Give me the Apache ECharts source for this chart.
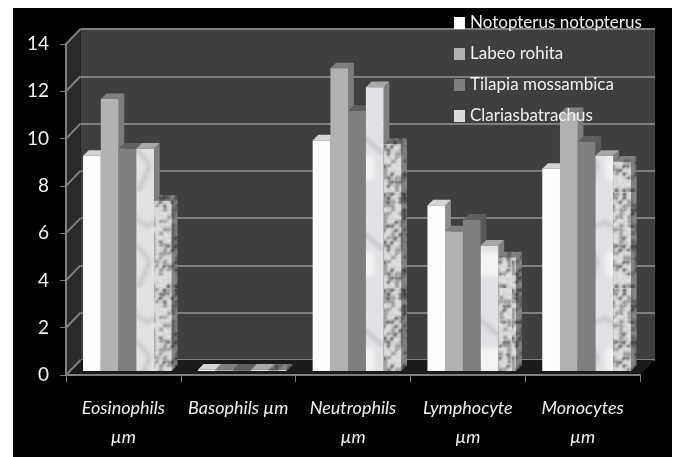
<!DOCTYPE html>
<html>
<head>
<meta charset="utf-8">
<style>
html, body { margin: 0; padding: 0; background: #fff; }
#main { width: 675px; height: 457px; }
</style>
<script src="https://cdn.jsdelivr.net/npm/echarts@6/dist/echarts.min.js"></script>
</head>
<body>
<div id="main"></div>
<script>
var categories = ["Eosinophils\nµm", "Basophils µm", "Neutrophils\nµm", "Lymphocyte\nµm", "Monocytes\nµm"];
var notopterus = [9.1, 0.05, 9.75, 7.0, 8.55];
var labeo = [11.5, 0.05, 12.8, 5.9, 10.9];
var tilapia = [9.4, 0.05, 11.0, 6.4, 9.7];
var clarias = [9.4, 0.05, 12.0, 5.3, 9.1];
var fifth = [7.2, 0.05, 9.6, 4.8, 8.85];
var legendNames = ["Notopterus notopterus", "Labeo rohita", "Tilapia mossambica", "Clariasbatrachus"];
var yTicks = [0, 2, 4, 6, 8, 10, 12, 14];

var font = 'Lato, "Liberation Sans", sans-serif';

// textures for the two mottled series, just decoration
function makeTexture(kind, shade) {
  var c = document.createElement("canvas");
  c.width = 64; c.height = 96;
  var ctx = c.getContext("2d");
  ctx.fillStyle = kind == "marble" ? "#e2e2e6" : "#cccccc";
  ctx.fillRect(0, 0, 64, 96);
  if (kind == "marble") {
    ctx.filter = "blur(2px)";
    ctx.strokeStyle = "rgba(120,120,125,0.55)";
    ctx.lineWidth = 2;
    ctx.beginPath(); ctx.moveTo(0, 20); ctx.lineTo(18, 34); ctx.lineTo(30, 30); ctx.lineTo(64, 58); ctx.stroke();
    ctx.beginPath(); ctx.moveTo(10, 96); ctx.lineTo(22, 70); ctx.lineTo(8, 52); ctx.stroke();
    ctx.fillStyle = "rgba(255,255,255,0.6)";
    ctx.fillRect(30, 60, 24, 24);
  } else {
    ctx.filter = "blur(0.8px)";
    for (var y = 0; y < 96; y += 4) {
      for (var x = 0; x < 64; x += 4) {
        var s = Math.sin(x * 12.9 + y * 78.2) * 437.5;
        s = s - Math.floor(s);
        ctx.fillStyle = s < 0.2 ? "#4e4e4e" : (s < 0.45 ? "#8a8a8a" : "#e6e6e6");
        ctx.beginPath();
        ctx.arc(x + s * 3, y + (1 - s) * 3, 1.9, 0, Math.PI * 2);
        ctx.fill();
      }
    }
    if (shade) {
      ctx.filter = "none";
      ctx.fillStyle = shade;
      ctx.fillRect(0, 0, 64, 96);
    }
  }
  return { image: c, repeat: "repeat" };
}
var marble = makeTexture("marble");
var granite = makeTexture("granite");
var graniteDark = makeTexture("granite", "rgba(0,0,0,0.4)");

function barRenderer(seriesPos, front, top, side) {
  return function (params, api) {
    var p = api.coord([api.value(0), api.value(1)]);
    var base = api.coord([api.value(0), 0]);
    var w = api.size([1, 0])[0] * 0.1545;
    var x = p[0] + 4 + (seriesPos - 2.5) * w;
    var yTop = p[1] - 4, yBase = base[1] - 4;
    var d = 5.7;
    return {
      type: "group",
      children: [
        { type: "polygon", shape: { points: [[x + w, yTop], [x + w + d, yTop - d], [x + w + d, yBase - d], [x + w, yBase]] }, style: { fill: side } },
        { type: "polygon", shape: { points: [[x, yTop], [x + d, yTop - d], [x + w + d, yTop - d], [x + w, yTop]] }, style: { fill: top } },
        { type: "rect", shape: { x: x, y: yTop, width: w, height: yBase - yTop }, style: { fill: front } }
      ]
    };
  };
}

function barSeries(name, values, pos, front, top, side) {
  return {
    name: name,
    type: "custom",
    z: 3,
    xAxisIndex: 0,
    yAxisIndex: 0,
    itemStyle: { color: typeof front == "string" ? front : "#dcdce0" },
    renderItem: barRenderer(pos, front, top, side),
    encode: { x: 0, y: 1 },
    data: values.map(function (v, i) { return [i, v]; })
  };
}

// left wall, floor and the slanted tick lines, all from the front axes
var depthX = 14.5, depthY = -15;
var wallSeries = {
  type: "custom",
  z: 1,
  silent: true,
  xAxisIndex: 0,
  yAxisIndex: 0,
  encode: { y: 0 },
  data: yTicks.map(function (t) { return [t]; }),
  renderItem: function (params, api) {
    var t = api.value(0);
    var rect = params.coordSys;
    var p = api.coord([0, t]);
    var x0 = rect.x, x1 = rect.x + rect.width;
    var children = [];
    if (t == 0) {
      var b = p[1], top = rect.y;
      children.push({ type: "polygon", shape: { points: [[x0, b], [x0 + depthX, b + depthY], [x0 + depthX, top + depthY], [x0, top]] }, style: { fill: "#2a2a2a" } });
      children.push({ type: "polygon", shape: { points: [[x0, b], [x0 + depthX, b + depthY], [x1 + depthX, b + depthY], [x1, b]] }, style: { fill: "#1b1b1b" } });
    }
    children.push({ type: "line", shape: { x1: x0, y1: p[1], x2: x0 + depthX, y2: p[1] + depthY }, style: { stroke: "#7f7f7f", lineWidth: 2 } });
    return { type: "group", children: children };
  }
};

var chart = echarts.init(document.getElementById("main"), null, { renderer: "canvas" });
chart.setOption({
  animation: false,
  backgroundColor: "#ffffff",
  graphic: [{ type: "rect", z: -100, silent: true, shape: { x: 13, y: 8, width: 659, height: 449 }, style: { fill: "#000000" } }],
  grid: [
    { left: 66, right: 35, top: 44, bottom: 82 },
    { left: 80.5, right: 20, top: 29, bottom: 97, show: true, backgroundColor: "#3f3f3f", borderWidth: 0 }
  ],
  legend: {
    orient: "vertical",
    left: 449,
    top: 7,
    z: 10,
    icon: "rect",
    itemWidth: 11,
    itemHeight: 12,
    itemGap: 9,
    textStyle: { color: "#f0f0f0", fontFamily: font, fontSize: 17, lineHeight: 22, padding: [0, 0, 0, 0] },
    data: [
      { name: legendNames[0] },
      { name: legendNames[1] },
      { name: legendNames[2] },
      { name: legendNames[3], itemStyle: { color: "#dcdce0" } }
    ]
  },
  xAxis: [
    {
      type: "category",
      gridIndex: 0,
      data: categories,
      z: 5,
      axisLine: { lineStyle: { color: "#7f7f7f", width: 2 } },
      axisTick: { show: true, length: 7, lineStyle: { color: "#7f7f7f", width: 1 } },
      axisLabel: {
        interval: 0,
        color: "#f0f0f0",
        fontFamily: font,
        fontStyle: "italic",
        fontSize: 18,
        lineHeight: 29,
        margin: 19
      }
    },
    { type: "category", gridIndex: 1, data: categories, show: false }
  ],
  yAxis: [
    {
      type: "value",
      gridIndex: 0,
      min: 0,
      max: 14,
      interval: 2,
      z: 5,
      axisLine: { show: true, lineStyle: { color: "#7f7f7f", width: 2 } },
      axisTick: { show: true, length: 6, lineStyle: { color: "#7f7f7f", width: 1 } },
      axisLabel: { color: "#f0f0f0", fontFamily: font, fontSize: 19, margin: 17 },
      splitLine: { show: false }
    },
    {
      type: "value",
      gridIndex: 1,
      min: 0,
      max: 14,
      interval: 2,
      axisLine: { show: false },
      axisTick: { show: false },
      axisLabel: { show: false },
      splitLine: { show: true, lineStyle: { color: "#7f7f7f", width: 2 } }
    }
  ],
  series: [
    wallSeries,
    barSeries(legendNames[0], notopterus, 0, "#fdfdfd", "#d4d4d4", "#8e8e8e"),
    barSeries(legendNames[1], labeo, 1, "#b2b2b2", "#808080", "#7c7c7c"),
    barSeries(legendNames[2], tilapia, 2, "#7f7f7f", "#5f5f5f", "#595959"),
    barSeries(legendNames[3], clarias, 3, marble, "#a8a8a8", "#808080"),
    barSeries("Series 5", fifth, 4, granite, graniteDark, graniteDark)
  ]
});
</script>
</body>
</html>
